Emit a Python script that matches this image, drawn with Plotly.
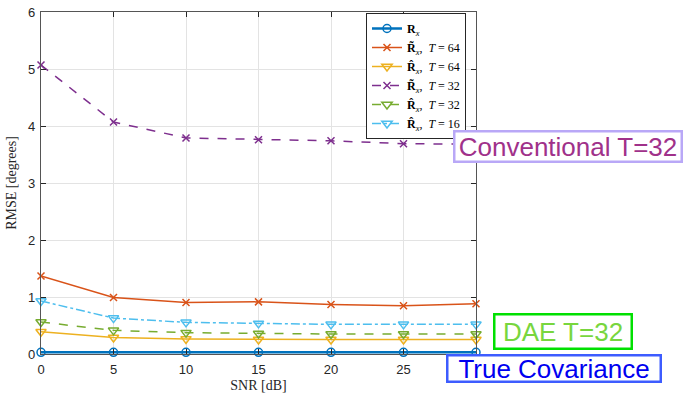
import plotly.graph_objects as go

snr = [0, 5, 10, 15, 20, 25, 30]
x_tick_text = ["0", "5", "10", "15", "20", "25", ""]
y_ticks = [0, 1, 2, 3, 4, 5, 6]
r_true = [0.03, 0.03, 0.03, 0.03, 0.03, 0.03, 0.03]
r_tilde_64 = [1.37, 0.99, 0.905, 0.915, 0.87, 0.846, 0.88]
r_hat_64 = [0.39, 0.29, 0.265, 0.255, 0.255, 0.255, 0.255]
r_tilde_32 = [5.07, 4.07, 3.79, 3.76, 3.74, 3.69, 3.68]
r_hat_32 = [0.56, 0.415, 0.375, 0.36, 0.35, 0.35, 0.35]
r_hat_16 = [0.93, 0.63, 0.555, 0.537, 0.52, 0.52, 0.52]

names = [
    "<b>R</b><sub><i>x</i></sub>",
    "<b>R\u0303</b><sub><i>x</i></sub>,\u00a0\u00a0<i>T</i>\u00a0=\u00a064",
    "<b>R\u0302</b><sub><i>x</i></sub>,\u00a0\u00a0<i>T</i>\u00a0=\u00a064",
    "<b>R\u0303</b><sub><i>x</i></sub>,\u00a0\u00a0<i>T</i>\u00a0=\u00a032",
    "<b>R\u0302</b><sub><i>x</i></sub>,\u00a0\u00a0<i>T</i>\u00a0=\u00a032",
    "<b>R\u0302</b><sub><i>x</i></sub>,\u00a0\u00a0<i>T</i>\u00a0=\u00a016",
]
series = [r_true, r_tilde_64, r_hat_64, r_tilde_32, r_hat_32, r_hat_16]
colors = ["#0072BD", "#D95319", "#EDB120", "#7E2F8E", "#77AC30", "#4DBEEE"]
symbols = ["circle-open", "x-thin-open", "triangle-down-open", "x-thin-open",
           "triangle-down-open", "triangle-down-open"]
dashes = ["solid", "solid", "solid", "dash", "dash", "dashdot"]
widths = [2.5, 1.5, 1.5, 1.5, 1.5, 1.5]
msizes = [8, 7, 9, 7, 9, 9]

fig = go.Figure()
for nm, ys, c, s, d, w, ms in zip(names, series, colors, symbols, dashes, widths, msizes):
    fig.add_trace(go.Scatter(
        x=snr, y=ys, name=nm, mode="lines+markers",
        line=dict(color=c, width=w, dash=d),
        marker=dict(symbol=s, size=ms, color=c, line=dict(color=c, width=1.5)),
        cliponaxis=False,
    ))

axis_common = dict(
    showgrid=True, gridcolor="#E3E3E3", gridwidth=1,
    showline=True, linecolor="#555555", linewidth=1.2, mirror="ticks",
    ticks="inside", ticklen=5, tickcolor="#262626",
    tickfont=dict(family="Liberation Sans, Arial", size=13, color="#262626"),
    zeroline=False, automargin=False,
)

fig.update_layout(
    width=685, height=393,
    margin=dict(l=41, r=209, t=12, b=39, autoexpand=False),
    plot_bgcolor="white", paper_bgcolor="white",
    xaxis=dict(range=[0, 30], tickvals=snr, ticktext=x_tick_text, ticklabelstandoff=3,
               title=dict(text="SNR [dB]", standoff=4,
                          font=dict(family="Liberation Serif, Times New Roman", size=14, color="#262626")),
               **axis_common),
    yaxis=dict(range=[0, 6], tickvals=y_ticks, ticklabelstandoff=2,
               title=dict(text="RMSE [degrees]", standoff=8,
                          font=dict(family="Liberation Serif, Times New Roman", size=14, color="#262626")),
               **axis_common),
    legend=dict(x=(466 - 41) / 435, y=(354 - 13) / 342, xanchor="right", yanchor="top",
                bgcolor="white", bordercolor="#262626", borderwidth=1,
                font=dict(family="Liberation Serif, Times New Roman", size=12, color="#000000"),
                tracegroupgap=0, itemwidth=30),
    showlegend=True,
)

def box(text, x0, y0, w, h, fc, bc):
    fig.add_annotation(
        xref="paper", yref="paper", x=(x0 - 41) / 435, y=(354 - y0) / 342,
        xanchor="left", yanchor="top", text=text, showarrow=False,
        font=dict(family="Liberation Sans, Arial", size=26, color=fc),
        bgcolor="white", bordercolor=bc, borderwidth=2.5, borderpad=0,
        width=w, height=h, align="center", valign="middle",
    )

box("Conventional T=32", 453, 130, 225, 28, "#A0318A", "#B9A8F7")
box("DAE T=32", 493, 313, 135, 32, "#78D63E", "#00E000")
box("True Covariance", 446, 354, 211, 24, "#0000F0", "#3D5CFF")

fig.write_html("out.html", config={"displayModeBar": False},
               post_script="document.body.style.margin='0px';")
